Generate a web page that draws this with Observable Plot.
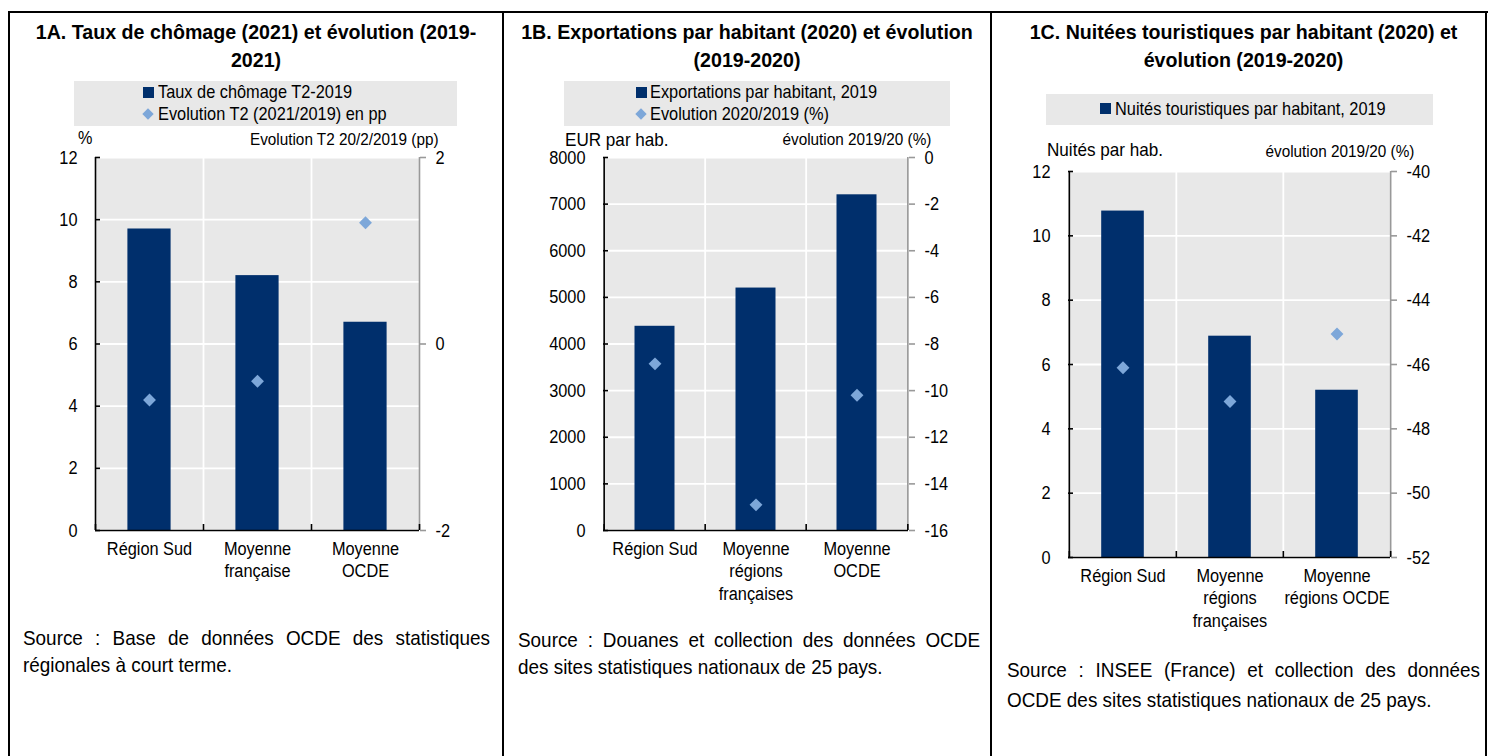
<!DOCTYPE html>
<html><head><meta charset="utf-8">
<script src="https://cdn.jsdelivr.net/npm/d3@7"></script>
<script src="https://cdn.jsdelivr.net/npm/@observablehq/plot@0.6"></script>
<style>
body{margin:0;background:#fff;color:#000;font-family:"Liberation Sans","Arial",sans-serif}
#page{position:relative;width:1488px;height:756px;overflow:hidden;background:#fff}
.line{position:absolute;background:#000}
.title{position:absolute;font-weight:bold;font-size:21px;line-height:28px;text-align:center;transform:scaleX(0.935);transform-origin:center top;white-space:nowrap}
.legend{position:absolute;background:#e8e8e8}
.sym{position:absolute}
.sq{width:11px;height:11px;background:#002F6C}
.dia{width:8px;height:8px;background:#7DA7D9;transform:rotate(45deg)}
.ltxt{position:absolute;font-size:19px;line-height:22px;white-space:nowrap;transform:scaleX(0.86);transform-origin:left top}
.hdr{position:absolute;font-size:17px;line-height:18px;white-space:nowrap;transform:scaleX(0.9)}
.hl{transform-origin:left top}
.hr{transform-origin:right top}
.src{position:absolute;font-size:21px;text-align:justify;transform:scaleX(0.9);transform-origin:left top}
.plot{position:absolute}
</style></head>
<body><div id="page"></div>
<script>
// ---------- data ----------
const categoriesA = ["Région Sud", "Moyenne\nfrançaise", "Moyenne\nOCDE"];
const chomageT2_2019 = [9.7, 8.2, 6.7];
const evolutionChomage = [-0.6, -0.4, 1.3];
const leftTicksA = [0, 2, 4, 6, 8, 10, 12];
const rightTicksA = [-2, 0, 2];

const categoriesB = ["Région Sud", "Moyenne\nrégions\nfrançaises", "Moyenne\nOCDE"];
const exportationsParHab = [4380, 5200, 7200];
const evolutionExport = [-8.85, -14.9, -10.2];
const leftTicksB = [0, 1000, 2000, 3000, 4000, 5000, 6000, 7000, 8000];
const rightTicksB = [0, -2, -4, -6, -8, -10, -12, -14, -16];

const categoriesC = ["Région Sud", "Moyenne\nrégions\nfrançaises", "Moyenne\nrégions OCDE"];
const nuiteesParHab = [10.77, 6.88, 5.2];
const evolutionNuitees = [-46.1, -47.15, -45.05];
const leftTicksC = [0, 2, 4, 6, 8, 10, 12];
const rightTicksC = [-40, -42, -44, -46, -48, -50, -52];

const NAVY = "#002F6C", LIGHT = "#7DA7D9", BG = "#e8e8e8";
const FONT = '"Liberation Sans",Arial,sans-serif';
const SQUEEZE = 0.86;

const page = document.getElementById("page");
function el(cls, css, html) {
  const d = document.createElement("div");
  d.className = cls;
  Object.assign(d.style, css);
  if (html != null) d.innerHTML = html;
  page.appendChild(d);
  return d;
}

// ---------- table borders ----------
el("line", {left: "8px", top: "11px", width: "1480px", height: "2px"});
el("line", {left: "8px", top: "11px", width: "2px", height: "760px"});
el("line", {left: "502px", top: "11px", width: "2px", height: "760px"});
el("line", {left: "990px", top: "11px", width: "2px", height: "760px"});
el("line", {left: "1485px", top: "11px", width: "2px", height: "760px"});

// ---------- panel chart ----------
function chart({cats, bars, evol, yDomain, leftTicks, rDomain, rightTicks, left, top, width, height, ml, mr, mt, mb}) {
  const toL = d3.scaleLinear().domain(rDomain).range(yDomain);
  const bw = (width - ml - mr) / cats.length;
  const data = cats.map((c, i) => ({c, v: bars[i], e: evol[i]}));
  const svg = Plot.plot({
    width, height, marginLeft: ml, marginRight: mr, marginTop: mt, marginBottom: mb,
    style: {fontFamily: FONT, fontSize: "19px", background: "transparent", overflow: "visible", color: "#000"},
    x: {domain: cats, padding: 0},
    y: {domain: yDomain},
    marks: [
      Plot.frame({fill: BG, stroke: null}),
      Plot.gridY(leftTicks, {stroke: "#fff", strokeOpacity: 1, strokeWidth: 1.8}),
      Plot.ruleX(cats.slice(1), {x: d => d, dx: -bw / 2, stroke: "#fff", strokeWidth: 1.8}),
      Plot.barY(data, {x: "c", y: "v", fill: NAVY, insetLeft: bw * 0.3, insetRight: bw * 0.3}),
      Plot.dot(data, {x: "c", y: d => toL(d.e), symbol: "diamond2", r: 5.8, fill: LIGHT, stroke: null}),
      Plot.ruleY([yDomain[0]], {stroke: "#000", strokeWidth: 1.6}),
      Plot.ruleX([cats[0]], {x: d => d, dx: -bw / 2, stroke: "#000", strokeWidth: 1.6}),
      Plot.ruleX([cats[cats.length - 1]], {x: d => d, dx: bw / 2, stroke: "#999", strokeWidth: 1.6}),
      Plot.ruleX(cats, {x: d => d, dx: -bw / 2, y1: yDomain[0], y2: yDomain[0], insetBottom: 6, stroke: "#000", strokeWidth: 1.6}),
      Plot.ruleX([cats[cats.length - 1]], {x: d => d, dx: bw / 2, y1: yDomain[0], y2: yDomain[0], insetBottom: 6, stroke: "#000", strokeWidth: 1.6}),
      Plot.axisY(leftTicks, {anchor: "left", tickSize: -5, tickPadding: 23, label: null, tickFormat: d => String(d), strokeWidth: 1.6}),
      Plot.axisY(rightTicks.map(t => toL(t)), {anchor: "right", tickSize: 6, tickPadding: 10, stroke: "#999", strokeWidth: 1.6, label: null, tickFormat: d => String(Math.round(toL.invert(d)))}),
      Plot.axisX({tickSize: 0, tickPadding: 8, label: null, lineHeight: 1.2})
    ]
  });
  // horizontally condense the tick label glyphs (narrow font look), keeping their anchor points
  svg.querySelectorAll("text").forEach(t => {
    const tr = t.getAttribute("transform") || "";
    const x = +(t.getAttribute("x") || 0);
    t.setAttribute("transform", `${tr} translate(${x},0) scale(${SQUEEZE},1) translate(${-x},0)`);
  });
  const wrap = el("plot", {left: left + "px", top: top + "px"});
  wrap.appendChild(svg);
}

function src(left, width, top, lh, text) {
  el("src", {left: left + "px", width: (width / 0.9) + "px", top: top + "px", lineHeight: lh + "px"}, text);
}

// ---------- Panel 1A ----------
el("title", {left: "10px", width: "492px", top: "18px"}, "1A. Taux de chômage (2021) et évolution (2019-<br>2021)");
el("legend", {left: "74px", top: "81px", width: "383px", height: "45px"});
el("sym sq", {left: "143px", top: "87px"});
el("ltxt", {left: "158px", top: "81px"}, "Taux de chômage T2-2019");
el("sym dia", {left: "144px", top: "110px"});
el("ltxt", {left: "158px", top: "103px"}, "Evolution T2 (2021/2019) en pp");
el("hdr hl", {left: "78px", top: "129px", fontSize: "18px"}, "%");
el("hdr hr", {right: (1488 - 438) + "px", top: "131px"}, "Evolution T2 20/2/2019 (pp)");
chart({cats: categoriesA, bars: chomageT2_2019, evol: evolutionChomage, yDomain: [0, 12], leftTicks: leftTicksA,
  rDomain: [-2, 2], rightTicks: rightTicksA, left: 10, top: 140, width: 493, height: 470, ml: 85, mr: 84, mt: 17, mb: 80});
src(23, 467, 624, 27, "Source : Base de données OCDE des statistiques régionales à court terme.");

// ---------- Panel 1B ----------
el("title", {left: "504px", width: "486px", top: "18px"}, "1B. Exportations par habitant (2020) et évolution<br>(2019-2020)");
el("legend", {left: "564px", top: "81px", width: "386px", height: "45px"});
el("sym sq", {left: "636px", top: "87px"});
el("ltxt", {left: "650px", top: "81px"}, "Exportations par habitant, 2019");
el("sym dia", {left: "637px", top: "110px"});
el("ltxt", {left: "650px", top: "103px"}, "Evolution 2020/2019 (%)");
el("hdr hl", {left: "565px", top: "130px", fontSize: "19px", lineHeight: "19px"}, "EUR par hab.");
el("hdr hr", {right: (1488 - 931) + "px", top: "131px"}, "évolution 2019/20 (%)");
chart({cats: categoriesB, bars: exportationsParHab, evol: evolutionExport, yDomain: [0, 8000], leftTicks: leftTicksB,
  rDomain: [-16, 0], rightTicks: rightTicksB, left: 504, top: 140, width: 487, height: 470, ml: 99, mr: 83, mt: 17, mb: 80});
src(518, 462, 626, 27, "Source : Douanes et collection des données OCDE des sites statistiques nationaux de 25 pays.");

// ---------- Panel 1C ----------
el("title", {left: "997px", width: "493px", top: "18px"}, "1C. Nuitées touristiques par habitant (2020) et<br>évolution (2019-2020)");
el("legend", {left: "1046px", top: "94px", width: "387px", height: "31px"});
el("sym sq", {left: "1100px", top: "103px"});
el("ltxt", {left: "1115px", top: "98px"}, "Nuités touristiques par habitant, 2019");
el("hdr hl", {left: "1047px", top: "140px", fontSize: "19px", lineHeight: "19px"}, "Nuités par hab.");
el("hdr hr", {right: (1488 - 1414) + "px", top: "143px"}, "évolution 2019/20 (%)");
chart({cats: categoriesC, bars: nuiteesParHab, evol: evolutionNuitees, yDomain: [0, 12], leftTicks: leftTicksC,
  rDomain: [-52, -40], rightTicks: rightTicksC, left: 992, top: 140, width: 494, height: 500, ml: 76, mr: 96, mt: 31, mb: 83});
src(1007, 473, 655, 30, "Source : INSEE (France) et collection des données OCDE des sites statistiques nationaux de 25 pays.");
</script>
</body></html>
